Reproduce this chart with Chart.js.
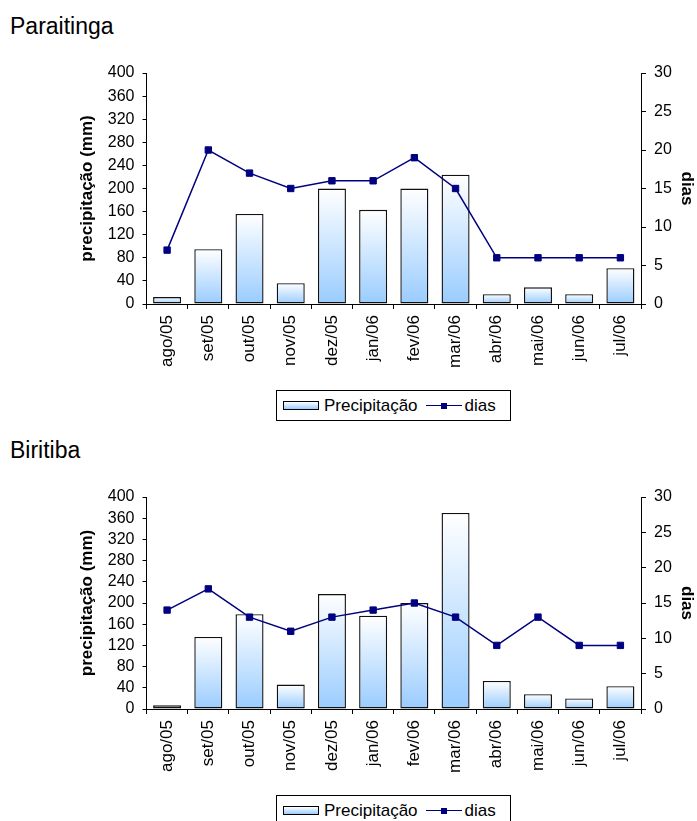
<!DOCTYPE html>
<html>
<head>
<meta charset="utf-8">
<script src="https://cdn.jsdelivr.net/npm/chart.js@4/dist/chart.umd.min.js"></script>
<style>
  body { margin: 0; background: #fff; width: 697px; height: 821px; position: relative; overflow: hidden;
         font-family: "Liberation Sans", Arial, sans-serif; color: #000; }
  .title { position: absolute; left: 10px; font-size: 23px; }
  canvas { position: absolute; left: 0; }
  .legend { position: absolute; left: 276px; width: 233px; height: 29px; border: 1px solid #000;
            font-size: 17px; display: flex; align-items: center; box-sizing: content-box; }
  .sw-bar { width: 34px; height: 7px; border: 1px solid #000; margin-left: 6px; margin-right: 5px;
            background: linear-gradient(#ffffff, #99ccff); }
  .sw-line { position: relative; width: 36px; height: 12px; margin-left: 8px; margin-right: 3px; }
  .sw-line::before { content: ""; position: absolute; left: 0; right: 0; top: 5px; height: 1.5px; background: #000080; }
  .sw-line::after { content: ""; position: absolute; left: 15px; top: 3px; width: 6px; height: 6px; background: #000080; }
</style>
</head>
<body>
<div class="title" style="top:13px">Paraitinga</div>
<canvas id="c1" width="697" height="340" style="top:50px"></canvas>
<div class="legend" style="top:390px"><span class="sw-bar"></span>Precipitação<span class="sw-line"></span>dias</div>

<div class="title" style="top:437px">Biritiba</div>
<canvas id="c2" width="697" height="321" style="top:474px"></canvas>
<div class="legend" style="top:795px"><span class="sw-bar"></span>Precipitação<span class="sw-line"></span>dias</div>

<script>
// Data
const months = ['ago/05', 'set/05', 'out/05', 'nov/05', 'dez/05', 'jan/06', 'fev/06', 'mar/06', 'abr/06', 'mai/06', 'jun/06', 'jul/06'];
const paraitingaChuva = [12, 95, 156, 36, 200, 163, 200, 224, 17, 29, 17, 62];
const paraitingaDias = [7, 20, 17, 15, 16, 16, 19, 15, 6, 6, 6, 6];
const biritibaChuva = [7, 136, 179, 46, 217, 176, 200, 370, 53, 28, 20, 43];
const biritibaDias = [14, 17, 13, 11, 13, 14, 15, 13, 9, 13, 9, 9];
const chuvaAxis = [0, 400, 40];   // min, max, step
const diasAxis = [0, 30, 5];

Chart.defaults.font.family = '"Liberation Sans", Arial, sans-serif';
Chart.defaults.color = '#000';

// white-to-blue gradient per bar
function barFill(ctx) {
  const chart = ctx.chart;
  if (!chart.chartArea || ctx.type !== 'data') return '#cfe4fb';
  const y = chart.scales.y;
  const top = y.getPixelForValue(ctx.raw);
  const base = y.getPixelForValue(0);
  if (base - top < 1) return '#99ccff';
  const g = chart.ctx.createLinearGradient(0, top, 0, base);
  g.addColorStop(0, '#ffffff');
  g.addColorStop(1, '#99ccff');
  return g;
}

function makeChart(id, chuva, dias) {
  const ctx = document.getElementById(id).getContext('2d');
  return new Chart(ctx, {
    data: {
      labels: months,
      datasets: [
        {
          type: 'line', label: 'dias', data: dias, yAxisID: 'y1', order: 0,
          borderColor: '#000080', borderWidth: 1.5, tension: 0,
          pointStyle: 'rect', pointRadius: 4.5, pointBackgroundColor: '#000080',
          pointBorderColor: '#000080', pointBorderWidth: 1
        },
        {
          type: 'bar', label: 'Precipitação', data: chuva, yAxisID: 'y', order: 1,
          backgroundColor: barFill, borderColor: '#111', borderWidth: 1.4, borderSkipped: false,
          barPercentage: 0.68, categoryPercentage: 1
        }
      ]
    },
    options: {
      responsive: false,
      animation: false,
      layout: { padding: { top: 23, left: 73, right: 0, bottom: 0 } },
      plugins: { legend: { display: false }, tooltip: { enabled: false } },
      scales: {
        x: {
          offset: true,
          grid: { drawOnChartArea: false, drawTicks: true, tickLength: 5, color: '#000', offset: true },
          border: { color: '#000', width: 1 },
          ticks: { maxRotation: 90, minRotation: 90, autoSkip: false, padding: 6, font: { size: 17 } },
          afterFit: s => { s.height = 86; }
        },
        y: {
          position: 'left', min: chuvaAxis[0], max: chuvaAxis[1],
          grid: { drawOnChartArea: false, tickLength: 4, color: '#000' },
          border: { color: '#000', width: 1 },
          ticks: { stepSize: chuvaAxis[2], autoSkip: false, padding: 8, font: { size: 16 } },
          title: { display: true, text: 'precipitação (mm)', font: { size: 17, weight: 'bold' }, padding: { top: 4, bottom: 0 } },
          afterFit: s => { s.width = 73.5; }
        },
        y1: {
          position: 'right', min: diasAxis[0], max: diasAxis[1],
          grid: { drawOnChartArea: false, tickLength: 5, color: '#000' },
          border: { color: '#000', width: 1 },
          ticks: { stepSize: diasAxis[2], autoSkip: false, padding: 8, font: { size: 16 } },
          title: { display: true, text: 'dias', font: { size: 17, weight: 'bold' }, padding: { top: 0, bottom: 0 } },
          afterFit: s => { s.width = 56; }
        }
      }
    }
  });
}

makeChart('c1', paraitingaChuva, paraitingaDias);
makeChart('c2', biritibaChuva, biritibaDias);
</script>
</body>
</html>
